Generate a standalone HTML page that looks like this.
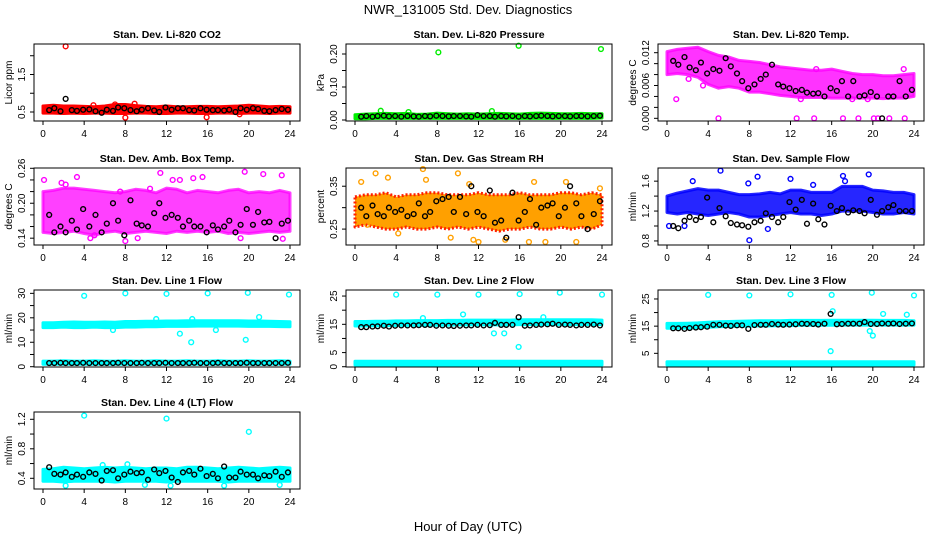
<!DOCTYPE html>
<html><head><meta charset="utf-8"><style>
html,body{margin:0;padding:0;background:#fff}
svg{display:block;font-family:"Liberation Sans",sans-serif}
</style></head><body>
<svg id="c" width="936" height="540" viewBox="0 0 936 540">
<text x="468" y="14" text-anchor="middle" font-size="13">NWR_131005  Std. Dev. Diagnostics</text>
<text x="468" y="531" text-anchor="middle" font-size="13">Hour of Day (UTC)</text>
</svg>
<script>
const blackT=[0.6,1.1,1.7,2.2,2.8,3.3,3.9,4.5,5.1,5.7,6.2,6.8,7.3,7.9,8.5,9.1,9.6,10.2,10.8,11.3,11.9,12.5,13.1,13.6,14.2,14.7,15.3,15.9,16.5,17.0,17.6,18.1,18.7,19.2,19.8,20.4,20.9,21.5,22.0,22.6,23.2,23.8];
const bandT=[0,1,2,3,4,5,6,7,8,9,10,11,12,13,14,15,16,17,18,19,20,21,22,23,24];
const xTicks=[0,4,8,12,16,20,24];

const p1Black=[0.55,0.6,0.52,0.85,0.55,0.53,0.56,0.57,0.52,0.48,0.56,0.53,0.62,0.6,0.55,0.52,0.56,0.6,0.54,0.5,0.62,0.56,0.6,0.6,0.55,0.54,0.6,0.56,0.55,0.55,0.54,0.56,0.5,0.6,0.56,0.6,0.58,0.53,0.52,0.55,0.58,0.56];
const p1Lo=[0.47,0.47,0.46,0.47,0.46,0.47,0.47,0.46,0.46,0.47,0.47,0.46,0.46,0.47,0.47,0.46,0.46,0.47,0.47,0.46,0.47,0.47,0.46,0.47,0.47];
const p1Hi=[0.66,0.68,0.66,0.66,0.65,0.64,0.66,0.7,0.7,0.67,0.65,0.64,0.66,0.64,0.64,0.65,0.65,0.64,0.65,0.66,0.68,0.66,0.64,0.65,0.64];
const p1OutT=[2.2,8.0,8.9,15.9,19.1,7.0,4.9];
const p1OutV=[2.25,0.35,0.72,0.36,0.44,0.7,0.68];

const p2Black=[0.01,0.012,0.01,0.012,0.013,0.011,0.012,0.01,0.012,0.011,0.01,0.012,0.011,0.013,0.012,0.011,0.012,0.012,0.011,0.01,0.015,0.012,0.012,0.01,0.012,0.011,0.012,0.01,0.012,0.011,0.012,0.013,0.012,0.011,0.012,0.012,0.011,0.012,0.012,0.011,0.012,0.013];
const p2Lo=[0.004,0.004,0.005,0.005,0.005,0.005,0.005,0.005,0.005,0.005,0.005,0.005,0.005,0.005,0.005,0.005,0.005,0.005,0.005,0.005,0.005,0.005,0.005,0.005,0.006];
const p2Hi=[0.016,0.018,0.019,0.02,0.019,0.02,0.017,0.018,0.021,0.019,0.018,0.019,0.018,0.019,0.02,0.019,0.018,0.02,0.021,0.02,0.019,0.019,0.02,0.019,0.019];
const p2OutT=[8.1,15.9,23.9,2.5,13.3,5.2];
const p2OutV=[0.205,0.225,0.215,0.028,0.027,0.024];

const p3Black=[0.0105,0.0098,0.0112,0.0093,0.0088,0.0102,0.0082,0.0090,0.0087,0.0110,0.0095,0.0082,0.0068,0.0055,0.0062,0.0072,0.0080,0.0098,0.0062,0.0058,0.0055,0.0050,0.0052,0.0047,0.0045,0.0046,0.0040,0.0055,0.0050,0.0068,0.0040,0.0068,0.0040,0.0042,0.0048,0.0040,0.0000,0.0040,0.0040,0.0068,0.0040,0.0052];
const p3Lo=[0.0080,0.0082,0.0080,0.0075,0.0062,0.0055,0.0058,0.0055,0.0048,0.0048,0.0045,0.0042,0.0040,0.0038,0.0038,0.0038,0.0037,0.0037,0.0037,0.0037,0.0037,0.0036,0.0037,0.0037,0.0040];
const p3Hi=[0.0122,0.0126,0.0128,0.0130,0.0122,0.0115,0.0112,0.0106,0.0104,0.0102,0.0098,0.0094,0.0092,0.0090,0.0088,0.0088,0.0090,0.0086,0.0082,0.0080,0.0080,0.0078,0.0078,0.0080,0.0082];
const p3OutT=[0.9,5.0,12.6,14.3,17.1,18.6,20.1,20.5,21.6,23.1,13.0,18.0,19.5,2.1,3.5,14.5,23.0];
const p3OutV=[0.0035,0,0,0,0,0,0,0,0,0,0.0035,0.0035,0.0035,0.0072,0.0060,0.0090,0.0090];

const p4Black=[0.18,0.15,0.16,0.15,0.17,0.155,0.19,0.16,0.18,0.15,0.165,0.2,0.17,0.145,0.205,0.165,0.162,0.16,0.183,0.2,0.175,0.18,0.175,0.16,0.17,0.16,0.16,0.15,0.162,0.155,0.16,0.17,0.15,0.163,0.19,0.163,0.185,0.167,0.168,0.14,0.165,0.17];
const p4Lo=[0.150,0.148,0.150,0.152,0.148,0.145,0.150,0.152,0.148,0.150,0.152,0.150,0.148,0.152,0.150,0.152,0.150,0.152,0.148,0.150,0.148,0.150,0.152,0.150,0.152];
const p4Hi=[0.220,0.222,0.226,0.226,0.224,0.222,0.220,0.218,0.220,0.224,0.222,0.218,0.226,0.224,0.218,0.222,0.220,0.218,0.222,0.224,0.218,0.220,0.218,0.222,0.218];
const p4OutT=[0.1,3.3,1.8,4.6,5.0,8.0,11.4,12.6,13.3,14.6,15.5,19.6,21.4,23.2,23.3,7.5,9.2,19.2,10.4,2.2];
const p4OutV=[0.24,0.245,0.235,0.14,0.145,0.135,0.252,0.24,0.24,0.243,0.245,0.254,0.25,0.248,0.139,0.22,0.14,0.14,0.225,0.232];

const p5Black=[0.30,0.28,0.305,0.285,0.28,0.30,0.29,0.295,0.28,0.285,0.31,0.28,0.29,0.315,0.32,0.325,0.29,0.325,0.285,0.35,0.29,0.28,0.34,0.265,0.27,0.23,0.335,0.27,0.29,0.32,0.26,0.30,0.305,0.31,0.28,0.30,0.35,0.31,0.28,0.25,0.285,0.315];
const p5Lo=[0.255,0.26,0.255,0.25,0.25,0.255,0.25,0.25,0.255,0.25,0.255,0.25,0.255,0.25,0.245,0.25,0.25,0.255,0.25,0.25,0.255,0.25,0.255,0.25,0.26];
const p5Hi=[0.325,0.33,0.33,0.335,0.325,0.33,0.33,0.335,0.335,0.33,0.33,0.33,0.335,0.33,0.33,0.33,0.335,0.33,0.33,0.33,0.335,0.335,0.33,0.335,0.33];
const p5OutT=[0.6,2.0,3.2,6.6,10.0,6.9,11.1,12.0,14.6,17.4,21.5,18.5,4.2,9.3,1.2,20.5,23.8,11.5,16.9];
const p5OutV=[0.36,0.38,0.37,0.39,0.38,0.365,0.355,0.22,0.225,0.36,0.22,0.22,0.24,0.23,0.26,0.36,0.345,0.225,0.22];

const p6Black=[1.0,0.97,1.07,1.12,1.08,1.12,1.38,1.05,1.24,1.13,1.04,1.02,1.01,0.99,1.05,1.07,1.17,1.12,1.05,1.12,1.32,1.22,1.35,1.03,1.3,1.09,1.02,1.27,1.2,1.24,1.18,1.21,1.2,1.17,1.35,1.15,1.2,1.25,1.28,1.2,1.2,1.2];
const p6Lo=[1.18,1.16,1.18,1.16,1.14,1.16,1.18,1.16,1.12,1.12,1.14,1.16,1.18,1.16,1.16,1.14,1.16,1.2,1.2,1.2,1.18,1.16,1.16,1.18,1.16];
const p6Hi=[1.4,1.44,1.47,1.5,1.48,1.48,1.45,1.42,1.42,1.43,1.45,1.43,1.48,1.48,1.45,1.45,1.45,1.53,1.53,1.53,1.48,1.47,1.45,1.45,1.42];
const p6OutT=[5.2,8.0,8.8,12.0,17.1,19.6,2.5,1.7,9.8,0.2,7.9,17.3,14.2];
const p6OutV=[1.74,0.81,1.66,1.63,1.67,1.69,1.6,1.0,0.96,1.0,1.57,1.6,1.55];

const p7Black=[1.5,1.5,1.6,1.5,1.5,1.5,1.6,1.5,1.5,1.5,1.5,1.5,1.6,1.5,1.5,1.5,1.6,1.5,1.5,1.5,1.6,1.5,1.5,1.5,1.5,1.6,1.5,1.5,1.5,1.6,1.5,1.5,1.5,1.5,1.6,1.5,1.5,1.5,1.5,1.5,1.5,1.6];
const p7Lo=[16.0,16.0,16.2,16.0,16.0,16.2,16.0,16.0,16.2,16.2,16.3,16.3,16.5,16.5,16.5,16.6,16.6,16.6,16.6,16.6,16.5,16.5,16.5,16.4,16.3];
const p7Hi=[18.0,18.0,18.2,18.3,18.2,18.2,18.3,18.2,18.5,18.5,18.6,18.6,18.7,18.7,18.8,18.8,18.8,18.8,18.8,18.8,18.7,18.7,18.6,18.5,18.4];
const p7Lo2=[1.0,1.0,1.0,1.0,1.0,1.0,1.0,1.0,1.0,1.0,1.0,1.0,1.0,1.0,1.0,1.0,1.0,1.0,1.0,1.0,1.0,1.0,1.0,1.0,1.0];
const p7Hi2=[2.3,2.3,2.4,2.3,2.3,2.4,2.3,2.3,2.4,2.3,2.3,2.4,2.3,2.3,2.4,2.3,2.3,2.4,2.3,2.3,2.4,2.3,2.3,2.4,2.3];
const p7OutT=[4.0,8.0,12.0,16.0,19.9,23.9,6.8,13.3,14.4,16.8,19.7,11.0,21.0,14.5];
const p7OutV=[29,30,29.8,30,30.2,29.5,15,13.5,10,15,11,19.5,20.3,19.5];

const p8Black=[14,14,14.2,14.3,14.5,14.2,14.5,14.6,14.6,14.6,14.7,14.8,14.8,14.5,14.6,14.5,14.4,14.5,14.6,14.6,14.8,14.6,14.7,15.5,14.8,14.8,14.8,17.5,14.5,14.6,14.8,14.9,15,15.2,14.8,14.9,14.8,14.6,14.8,14.8,14.9,14.6];
const p8Lo=[14.4,14.4,14.5,14.5,14.6,14.6,14.6,14.6,14.7,14.7,14.8,14.8,14.8,14.8,14.8,14.8,14.9,14.9,14.9,14.9,14.9,14.9,14.9,14.9,14.9];
const p8Hi=[16.0,16.0,16.1,16.1,16.2,16.2,16.3,16.3,16.3,16.4,16.4,16.5,16.5,16.5,16.5,16.5,16.6,16.6,16.6,16.6,16.6,16.6,16.6,16.6,16.5];
const p8Lo2=[0.6,0.6,0.6,0.6,0.6,0.6,0.6,0.6,0.6,0.6,0.6,0.6,0.6,0.6,0.6,0.6,0.6,0.6,0.6,0.6,0.6,0.6,0.6,0.6,0.6];
const p8Hi2=[1.9,1.9,1.9,1.9,1.9,1.9,1.9,1.9,1.9,1.9,1.9,1.9,1.9,1.9,1.9,1.9,1.9,1.9,1.9,1.9,1.9,1.9,1.9,1.9,1.9];
const p8OutT=[4.0,8.0,12.0,16.0,19.9,24.0,13.5,14.5,10.5,6.6,15.9,18.3];
const p8OutV=[25.5,25.5,25.5,25.7,26.2,25.5,11.8,11.8,18.5,17.2,7.0,17.5];

const p9Black=[14.2,14.2,14,14.3,14.5,14.6,14.8,15.5,15.5,15.2,15.1,15.3,15.3,14,15.4,15.5,15.5,15.8,15.6,15.5,15.6,15.7,15.9,15.8,15.8,15.6,15.9,19.5,15.7,15.8,15.9,15.9,15.9,16.5,15.8,15.8,16,15.9,16,15.8,15.9,16];
const p9Lo=[14.2,14.2,14.3,14.4,14.6,14.8,14.9,15,15,15.1,15.1,15.2,15.2,15.3,15.3,15.3,15.3,15.4,15.4,15.4,15.4,15.4,15.4,15.4,15.4];
const p9Hi=[16.0,16.0,16.1,16.2,16.4,16.6,16.7,16.8,16.9,17.0,17.0,17.0,17.1,17.1,17.1,17.1,17.2,17.2,17.2,17.2,17.2,17.1,17.1,17.1,17.0];
const p9Lo2=[0.7,0.7,0.7,0.7,0.7,0.7,0.7,0.7,0.7,0.7,0.7,0.7,0.7,0.7,0.7,0.7,0.7,0.7,0.7,0.7,0.7,0.7,0.7,0.7,0.7];
const p9Hi2=[1.9,1.9,1.9,1.9,1.9,1.9,1.9,1.9,1.9,1.9,1.9,1.9,1.9,1.9,1.9,1.9,1.9,1.9,1.9,1.9,1.9,1.9,1.9,1.9,1.9];
const p9OutT=[4.0,8.0,12.0,16.0,19.9,24.0,15.9,19.7,20.0,16.1,23.3,21.0];
const p9OutV=[26.5,26.3,26.7,26.5,27.3,26.3,5.8,13.2,11.5,20.5,19.2,19.5];

const p10Black=[0.55,0.46,0.45,0.48,0.42,0.45,0.42,0.48,0.46,0.37,0.5,0.51,0.4,0.45,0.49,0.47,0.48,0.38,0.52,0.47,0.5,0.41,0.35,0.48,0.5,0.45,0.53,0.43,0.46,0.4,0.56,0.41,0.41,0.49,0.45,0.45,0.4,0.44,0.43,0.49,0.42,0.48];
const p10Lo=[0.36,0.36,0.35,0.36,0.36,0.36,0.36,0.35,0.36,0.36,0.36,0.36,0.35,0.36,0.36,0.36,0.36,0.36,0.35,0.36,0.36,0.36,0.36,0.36,0.36];
const p10Hi=[0.52,0.53,0.55,0.54,0.53,0.54,0.55,0.54,0.55,0.54,0.53,0.54,0.54,0.53,0.55,0.55,0.54,0.53,0.54,0.55,0.54,0.53,0.54,0.55,0.54];
const p10OutT=[4.0,12.0,20.0,2.2,5.8,8.2,12.4,17.6,23.0,9.9];
const p10OutV=[1.25,1.21,1.03,0.3,0.58,0.59,0.3,0.3,0.31,0.31];

const panels=[
 {name:'co2',title:'Stan. Dev. Li-820 CO2',ylab:'Licor ppm',col:0,row:0,ymin:0.26,ymax:2.313,ticks:[0.5,1,1.5,2],labels:[0.5,1.5],fmt:1,color:'#ff0000',op:1,black:p1Black,bands:[[p1Lo,p1Hi]],outT:p1OutT,outV:p1OutV},
 {name:'pressure',title:'Stan. Dev. Li-820 Pressure',ylab:'kPa',col:1,row:0,ymin:-0.003,ymax:0.2303,ticks:[0,0.05,0.1,0.15,0.2],labels:[0,0.1,0.2],fmt:2,color:'#00ee00',op:1,black:p2Black,bands:[[p2Lo,p2Hi]],outT:p2OutT,outV:p2OutV},
 {name:'li820-temp',title:'Stan. Dev. Li-820 Temp.',ylab:'degrees C',col:2,row:0,ymin:-0.00049,ymax:0.01359,ticks:[0,0.002,0.004,0.006,0.008,0.01,0.012],labels:[0,0.006,0.012],fmt:3,color:'#ff00ff',op:0.8,black:p3Black,bands:[[p3Lo,p3Hi]],outT:p3OutT,outV:p3OutV},
 {name:'amb-box-temp',title:'Stan. Dev. Amb. Box Temp.',ylab:'degrees C',col:0,row:1,ymin:0.1283,ymax:0.2605,ticks:[0.14,0.16,0.18,0.2,0.22,0.24,0.26],labels:[0.14,0.2,0.26],fmt:2,color:'#ff00ff',op:0.75,black:p4Black,bands:[[p4Lo,p4Hi]],outT:p4OutT,outV:p4OutV},
 {name:'gas-stream-rh',title:'Stan. Dev. Gas Stream RH',ylab:'percent',col:1,row:1,ymin:0.2129,ymax:0.3925,ticks:[0.25,0.3,0.35],labels:[0.25,0.35],fmt:2,color:'#ffa000',op:1,stroke2:'#ff2000',black:p5Black,bands:[[p5Lo,p5Hi]],outT:p5OutT,outV:p5OutV},
 {name:'sample-flow',title:'Stan. Dev. Sample Flow',ylab:'ml/min',col:2,row:1,ymin:0.7458,ymax:1.776,ticks:[0.8,1,1.2,1.4,1.6],labels:[0.8,1.2,1.6],fmt:1,color:'#0000ff',op:0.85,black:p6Black,bands:[[p6Lo,p6Hi]],outT:p6OutT,outV:p6OutV},
 {name:'line1-flow',title:'Stan. Dev. Line 1 Flow',ylab:'ml/min',col:0,row:2,ymin:-0.12,ymax:31.37,ticks:[0,5,10,15,20,25,30],labels:[0,10,20,30],fmt:0,color:'#00ffff',op:1,black:p7Black,bands:[[p7Lo,p7Hi],[p7Lo2,p7Hi2]],outT:p7OutT,outV:p7OutV},
 {name:'line2-flow',title:'Stan. Dev. Line 2 Flow',ylab:'ml/min',col:1,row:2,ymin:-0.1,ymax:27.14,ticks:[0,5,10,15,20,25],labels:[0,5,15,25],fmt:0,color:'#00ffff',op:1,black:p8Black,bands:[[p8Lo,p8Hi],[p8Lo2,p8Hi2]],outT:p8OutT,outV:p8OutV},
 {name:'line3-flow',title:'Stan. Dev. Line 3 Flow',ylab:'ml/min',col:2,row:2,ymin:-0.03,ymax:28.3,ticks:[5,10,15,20,25],labels:[5,15,25],fmt:0,color:'#00ffff',op:1,black:p9Black,bands:[[p9Lo,p9Hi],[p9Lo2,p9Hi2]],outT:p9OutT,outV:p9OutV},
 {name:'line4-flow',title:'Stan. Dev. Line 4 (LT) Flow',ylab:'ml/min',col:0,row:3,ymin:0.2549,ymax:1.299,ticks:[0.4,0.6,0.8,1.0,1.2],labels:[0.4,0.8,1.2],fmt:1,color:'#00ffff',op:1,black:p10Black,bands:[[p10Lo,p10Hi]],outT:p10OutT,outV:p10OutV}
];
const colLeft=[34,346,658], rowTop=[44,168,290,412], BW=266, BH=77;
const NS='http://www.w3.org/2000/svg';
const svg=document.getElementById('c');
function mk(tag,attrs,parent){const e=document.createElementNS(NS,tag);for(const k in attrs)e.setAttribute(k,attrs[k]);(parent||svg).appendChild(e);return e;}
panels.forEach(p=>{
  const L=colLeft[p.col],T=rowTop[p.row];
  const g=mk('g',{});
  
  
  const xs=v=>L+9+v/24*247;
  const ys=v=>T+BH-(v-p.ymin)/(p.ymax-p.ymin)*BH;
  const cg=mk('g',{},g);
  p.bands.forEach((b,bi)=>{
    let d='';
    bandT.forEach((t,i)=>{d+=(i?'L':'M')+xs(t).toFixed(1)+','+ys(b[1][i]).toFixed(1);});
    for(let i=bandT.length-1;i>=0;i--)d+='L'+xs(bandT[i]).toFixed(1)+','+ys(b[0][i]).toFixed(1);
    const path=mk('path',{d:d+'Z',fill:p.color,'fill-opacity':p.op,stroke:p.stroke2||p.color,'stroke-opacity':p.op,'stroke-width':3,'stroke-linejoin':'round','stroke-dasharray':p.stroke2?'2 2':'none'},cg);
    
    
  });
  p.outT.forEach((t,i)=>{
    const c=mk('circle',{cx:xs(t),cy:ys(p.outV[i]),r:2.4,fill:'none',stroke:p.color,'stroke-width':1.4},cg);
    
    
  });
  blackT.forEach((t,i)=>{
    const c=mk('circle',{cx:xs(t),cy:ys(p.black[i]),r:2.4,fill:'none',stroke:'#000','stroke-width':1.4},cg);
    
    
  });
  const box=mk('rect',{x:L,y:T,width:BW,height:BH,fill:'none',stroke:'#000','stroke-width':1},g);
  
  
  xTicks.forEach(v=>{
    mk('line',{x1:xs(v),x2:xs(v),y1:T+BH,y2:T+BH+4,stroke:'#000'},g);
    const tx=mk('text',{x:xs(v),y:T+BH+16,'text-anchor':'middle','font-size':10},g);
    tx.textContent=v;
    
    
  });
  p.ticks.forEach(v=>{mk('line',{x1:L-4,x2:L,y1:ys(v),y2:ys(v),stroke:'#000'},g);});
  p.labels.forEach(v=>{
    const y=ys(v);
    const tx=mk('text',{x:L-9,y:y,'text-anchor':'middle','font-size':10,transform:`rotate(-90 ${L-9} ${y})`},g);
    tx.textContent=v.toFixed(p.fmt);
    
    
  });
  const yl=mk('text',{x:L-22,y:T+BH/2,'text-anchor':'middle','font-size':10,transform:`rotate(-90 ${L-22} ${T+BH/2})`},g);
  yl.textContent=p.ylab;
  
  
  const tt=mk('text',{x:L+BW/2,y:T-6,'text-anchor':'middle','font-size':10.5,'font-weight':'bold'},g);
  tt.textContent=p.title;
  
  
});
</script>
</body></html>
